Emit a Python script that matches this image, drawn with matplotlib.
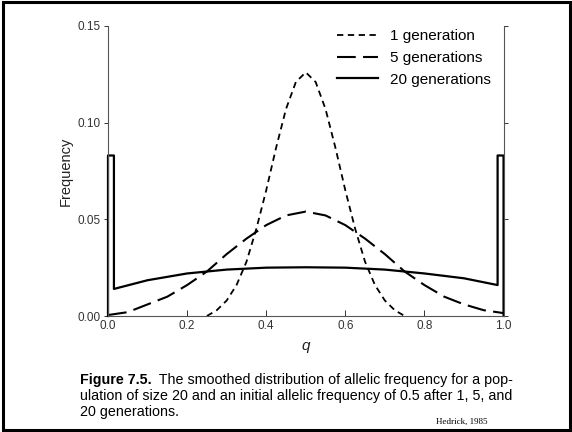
import matplotlib
matplotlib.use("Agg")
import matplotlib.pyplot as plt
from matplotlib.patches import Rectangle
from matplotlib.text import Annotation

plt.rcParams['font.family'] = ['Liberation Sans', 'DejaVu Sans']

# 1 generation
q1 = [0.25, 0.275, 0.30, 0.325, 0.35, 0.375, 0.40, 0.425, 0.45, 0.475, 0.50,
      0.525, 0.55, 0.575, 0.60, 0.625, 0.65, 0.675, 0.70, 0.725, 0.75]
f1 = [0.000, 0.003, 0.008, 0.016, 0.028, 0.045, 0.065, 0.087, 0.107, 0.121, 0.126,
      0.121, 0.107, 0.087, 0.065, 0.045, 0.028, 0.016, 0.008, 0.003, 0.000]

# 5 generations
q5 = [0.0, 0.05, 0.10, 0.15, 0.20, 0.25, 0.30, 0.35, 0.40, 0.45, 0.50,
      0.55, 0.60, 0.65, 0.70, 0.75, 0.80, 0.85, 0.90, 0.95, 1.0]
f5 = [0.0005, 0.002, 0.006, 0.010, 0.016, 0.023, 0.032, 0.040, 0.047, 0.052, 0.054,
      0.052, 0.047, 0.040, 0.032, 0.023, 0.016, 0.010, 0.006, 0.003, 0.0015]

# 20 generations (with absorbed classes at the edges)
q20 = [0.0, 0.0, 0.015, 0.015, 0.10, 0.20, 0.30, 0.40, 0.50, 0.60, 0.70, 0.80, 0.90,
       0.985, 0.985, 1.0, 1.0]
f20 = [0.0, 0.083, 0.083, 0.014, 0.0185, 0.022, 0.0240, 0.0250, 0.0252, 0.0250, 0.0240,
       0.0220, 0.0195, 0.0160, 0.083, 0.083, 0.0]

labels = ["1 generation", "5 generations", "20 generations"]
xticks = [0.0, 0.2, 0.4, 0.6, 0.8, 1.0]
yticks = [0.00, 0.05, 0.10, 0.15]

fig = plt.figure(figsize=(5.72, 4.32), dpi=100)
ax = fig.add_axes([0.1888, 0.2685, 0.6915, 0.6715])

ax.plot(q1, f1, color='black', lw=1.3, linestyle=(0, (3.5, 2.5)), label=labels[0], clip_on=False)
ax.plot(q5, f5, color='black', lw=1.5, linestyle=(0, (9, 3.5)), label=labels[1], clip_on=False)
ax.plot(q20, f20, color='black', lw=1.6, label=labels[2], clip_on=False)

ax.set_xlim(0, 1.0)
ax.set_ylim(0, 0.15)
ax.set_xticks(xticks)
ax.set_xticklabels([f"{v:.1f}" for v in xticks])
ax.set_yticks(yticks)
ax.set_yticklabels([f"{v:.2f}" for v in yticks])

for s in ['left', 'right', 'bottom']:
    ax.spines[s].set_linewidth(0.8)
    ax.spines[s].set_color('#555555')
ax.spines['top'].set_visible(False)
ax.tick_params(axis='x', direction='in', length=4, width=0.7, labelsize=8.5,
               colors='#333333', pad=3)
ax.tick_params(axis='y', direction='out', length=3, width=0.7, labelsize=8.5,
               colors='#333333', right=True, pad=2)

ax.set_ylabel("Frequency", fontsize=10.5, labelpad=4, color='#222222')
ax.set_xlabel("q", fontsize=11, style='italic', labelpad=5, color='#222222')

leg = ax.legend(loc='upper right', bbox_to_anchor=(0.99, 1.02), frameon=False,
                fontsize=11, handlelength=2.7, handletextpad=0.75,
                labelspacing=0.5, borderaxespad=0.2)

# caption
cap_size = 10.3
x0 = 0.139
t1 = fig.text(x0, 1 - 373 / 432, "Figure 7.5.", fontsize=cap_size, weight='bold',
              va='top', ha='left')
a1 = Annotation("  The smoothed distribution of allelic frequency for a pop-",
                xy=(1, 0), xycoords=t1, va='bottom', ha='left', fontsize=cap_size)
fig.add_artist(a1)
fig.text(x0, 1 - 389 / 432, "ulation of size 20 and an initial allelic frequency of 0.5 after 1, 5, and",
         fontsize=cap_size, va='top', ha='left')
fig.text(x0, 1 - 405 / 432, "20 generations.", fontsize=cap_size, va='top', ha='left')

fig.text(0.762, 0.014, "Hedrick, 1985", fontsize=6.5, family='Liberation Serif',
         ha='left', va='bottom')

fig.patches.append(Rectangle((0.006, 0.005), 0.991, 0.99, transform=fig.transFigure,
                             fill=False, edgecolor='black', linewidth=2.2))

fig.savefig("out.png", dpi=100)
